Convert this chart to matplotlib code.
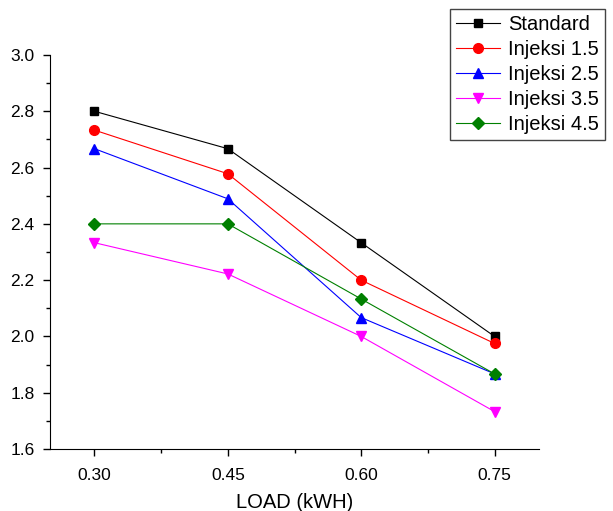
import matplotlib
matplotlib.use('Agg')
import matplotlib.pyplot as plt
from matplotlib.ticker import MultipleLocator

plt.rcParams['font.family'] = ['Liberation Sans', 'DejaVu Sans']

LOAD = [0.30, 0.45, 0.60, 0.75]
STANDARD = [2.8, 2.667, 2.333, 2.0]
INJEKSI_15 = [2.733, 2.578, 2.2, 1.975]
INJEKSI_25 = [2.667, 2.489, 2.067, 1.867]
INJEKSI_35 = [2.333, 2.222, 2.0, 1.733]
INJEKSI_45 = [2.4, 2.4, 2.133, 1.867]

fig = plt.figure(figsize=(6.13, 5.11), dpi=100)
ax = fig.add_axes([0.0816, 0.1213, 0.7977, 0.7711])

ax.plot(LOAD, STANDARD, c='black', marker='s', ms=6, lw=0.8, label='Standard')
ax.plot(LOAD, INJEKSI_15, c='red', marker='o', ms=7, lw=0.8, label='Injeksi 1.5')
ax.plot(LOAD, INJEKSI_25, c='blue', marker='^', ms=7, lw=0.8, label='Injeksi 2.5')
ax.plot(LOAD, INJEKSI_35, c='magenta', marker='v', ms=7, lw=0.8, label='Injeksi 3.5')
ax.plot(LOAD, INJEKSI_45, c='green', marker='D', ms=6, lw=0.8, label='Injeksi 4.5')

ax.set_xlim(0.25, 0.80)
ax.set_ylim(1.6, 3.0)
ax.set_xticks(LOAD)
ax.set_xticklabels(['0.30', '0.45', '0.60', '0.75'])
ax.xaxis.set_minor_locator(MultipleLocator(0.075))
ax.yaxis.set_major_locator(MultipleLocator(0.2))
ax.yaxis.set_minor_locator(MultipleLocator(0.1))
ax.tick_params(which='major', direction='out', length=5, width=1, labelsize=12.5)
ax.tick_params(axis='x', which='major', pad=9)
ax.tick_params(axis='y', which='major', pad=6)
ax.tick_params(which='minor', direction='out', length=3, width=1)

ax.spines['top'].set_visible(False)
ax.spines['right'].set_visible(False)
ax.set_xlabel('LOAD (kWH)', fontsize=14.5, labelpad=7)

leg = ax.legend(loc='upper right', bbox_to_anchor=(0.987, 0.982),
                bbox_transform=fig.transFigure, fontsize=14.5, fancybox=False,
                edgecolor='#444444', framealpha=1, handlelength=2.2,
                borderpad=0.3, labelspacing=0.3, handletextpad=0.4,
                borderaxespad=0)
leg.get_frame().set_linewidth(1)

fig.savefig('out.png', dpi=100)
